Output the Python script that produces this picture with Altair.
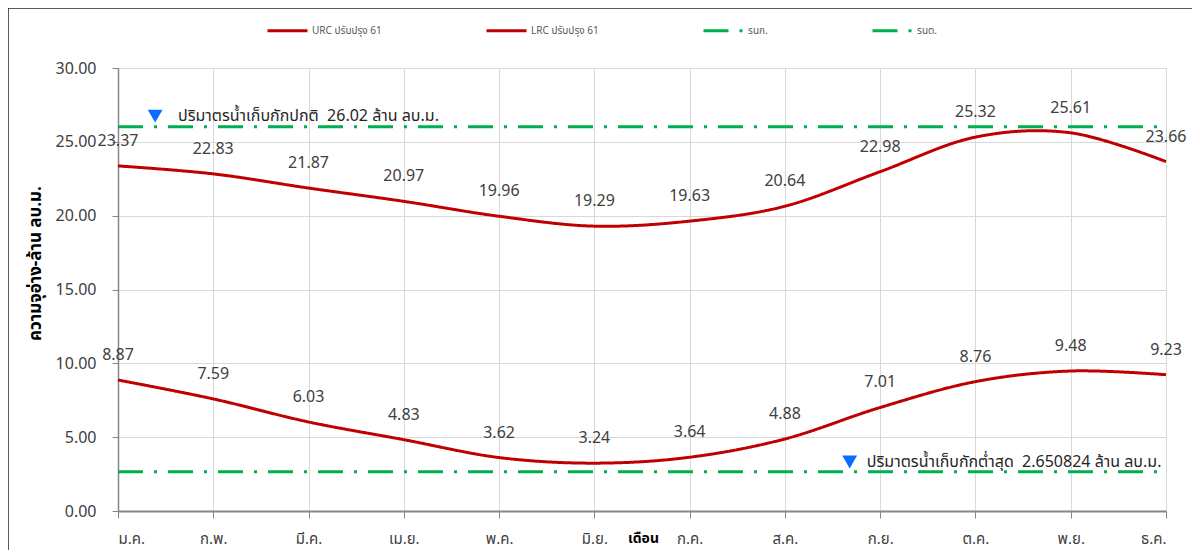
import altair as alt
import pandas as pd

months = ["ม.ค.", "ก.พ.", "มี.ค.", "เม.ย.", "พ.ค.", "มิ.ย.", "ก.ค.", "ส.ค.", "ก.ย.", "ต.ค.", "พ.ย.", "ธ.ค."]
urc = [23.37, 22.83, 21.87, 20.97, 19.96, 19.29, 19.63, 20.64, 22.98, 25.32, 25.61, 23.66]
lrc = [8.87, 7.59, 6.03, 4.83, 3.62, 3.24, 3.64, 4.88, 7.01, 8.76, 9.48, 9.23]
normal_level = 26.02
min_level = 2.650824

series_names = ["URC ปรับปรุง 61", "LRC ปรับปรุง 61", "รนก.", "รนต."]
series_colors = ["#C00000", "#C00000", "#00B050", "#00B050"]
series_dash = [[1, 0], [1, 0], [25, 11, 3, 11], [25, 11, 3, 11]]

ann_x = [0.39, 7.68]
ann_text_x = [0.63, 7.86]
ann_y = [26.74, 3.32]
ann_text = ["ปริมาตรน้ำเก็บกักปกติ\u00a0\u00a026.02 ล้าน ลบ.ม.", "ปริมาตรน้ำเก็บกักต่ำสุด\u00a0\u00a02.650824 ล้าน ลบ.ม."]

FONT = "Tahoma, 'Noto Sans Thai', 'Noto Sans', 'DejaVu Sans', sans-serif"

rows = []
for i, v in enumerate(urc):
    rows.append({"series": series_names[0], "mi": i, "value": v})
for i, v in enumerate(lrc):
    rows.append({"series": series_names[1], "mi": i, "value": v})
for i in (0, len(months) - 1):
    rows.append({"series": series_names[2], "mi": i, "value": normal_level})
    rows.append({"series": series_names[3], "mi": i, "value": min_level})
df = pd.DataFrame(rows)
df_lbl = df[df["series"].isin(series_names[:2])].copy()
df_lbl["label"] = df_lbl["value"].map(lambda v: f"{v:.2f}")

ann = pd.DataFrame({"x": ann_x, "tx": ann_text_x, "y": ann_y, "text": ann_text})

month_expr = "[" + ",".join(f"'{m}'" for m in months) + "][datum.value]"

x_enc = alt.X(
    "mi:Q",
    scale=alt.Scale(domain=[0, 11], nice=False, zero=False),
    axis=alt.Axis(
        values=list(range(12)), labelExpr=month_expr, title="เดือน",
        titleX=525, titleY=27, titleBaseline="middle", titleAlign="center",
        titleFontWeight="bold", titleFontSize=14, titleColor="#000000",
        labelFontSize=15, labelColor="#404040", labelPadding=13,
        tickSize=7, tickColor="#868686", domainColor="#868686", domainWidth=2,
        gridColor="#D9D9D9", grid=True, labelFont=FONT, titleFont=FONT,
    ),
)
y_enc = alt.Y(
    "value:Q",
    scale=alt.Scale(domain=[0, 30], nice=False),
    axis=alt.Axis(
        values=[0, 5, 10, 15, 20, 25, 30], format=".2f", title="ความจุอ่าง-ล้าน  ลบ.ม.",
        titleX=-83, titleY=195, titleBaseline="middle", titleAlign="center",
        titleFontWeight="bold", titleFontSize=17, titleColor="#000000",
        labelFontSize=16, labelColor="#404040", labelPadding=16,
        tickSize=6, tickColor="#868686", domainColor="#868686", domainWidth=1.5,
        gridColor="#D9D9D9", grid=True, labelFont=FONT, titleFont=FONT,
    ),
)

lines = alt.Chart(df).mark_line(interpolate="cardinal", strokeWidth=3).encode(
    x=x_enc,
    y=y_enc,
    color=alt.Color(
        "series:N",
        scale=alt.Scale(domain=series_names, range=series_colors),
        legend=alt.Legend(
            title=None, orient="none", legendX=148, legendY=-59, direction="horizontal",
            symbolType="stroke", symbolSize=1600, symbolStrokeWidth=3,
            labelFontSize=10, labelColor="#595959", labelFont=FONT, labelOffset=3,
            columnPadding=98,
        ),
    ),
    strokeDash=alt.StrokeDash(
        "series:N",
        scale=alt.Scale(domain=series_names, range=series_dash),
        legend=None,
    ),
    detail="series:N",
)

labels = alt.Chart(df_lbl).mark_text(
    dy=-25, fontSize=16, color="#404040", font=FONT, baseline="middle", align="center"
).encode(x="mi:Q", y="value:Q", text="label:N")

tri = alt.Chart(ann).mark_point(
    shape="triangle-down", filled=True, size=220, color="#0A6CFF", opacity=1
).encode(x="x:Q", y="y:Q")

ann_txt = alt.Chart(ann).mark_text(
    align="left", baseline="middle", fontSize=16, color="#262626", font=FONT
).encode(x="tx:Q", y="y:Q", text="text:N")

frame_df = pd.DataFrame({"k": [0]})
frame_left = alt.Chart(frame_df).mark_rule(color="#262626", strokeWidth=1.5).encode(
    x=alt.value(-110), y=alt.value(-60), y2=alt.value(500))
frame_top = alt.Chart(frame_df).mark_rule(color="#262626", strokeWidth=1.5).encode(
    x=alt.value(-110), x2=alt.value(1080), y=alt.value(-60))

chart = alt.layer(
    lines, labels, tri, ann_txt, frame_left, frame_top
).properties(
    width=1048, height=443,
    autosize=alt.AutoSizeParams(type="none"),
    padding={"left": 110, "top": 60, "right": 26, "bottom": 39},
).configure_view(
    stroke="#000000", strokeWidth=1
).configure(background="white")

chart.save("out.html", embed_options={"renderer": "svg", "actions": False})
